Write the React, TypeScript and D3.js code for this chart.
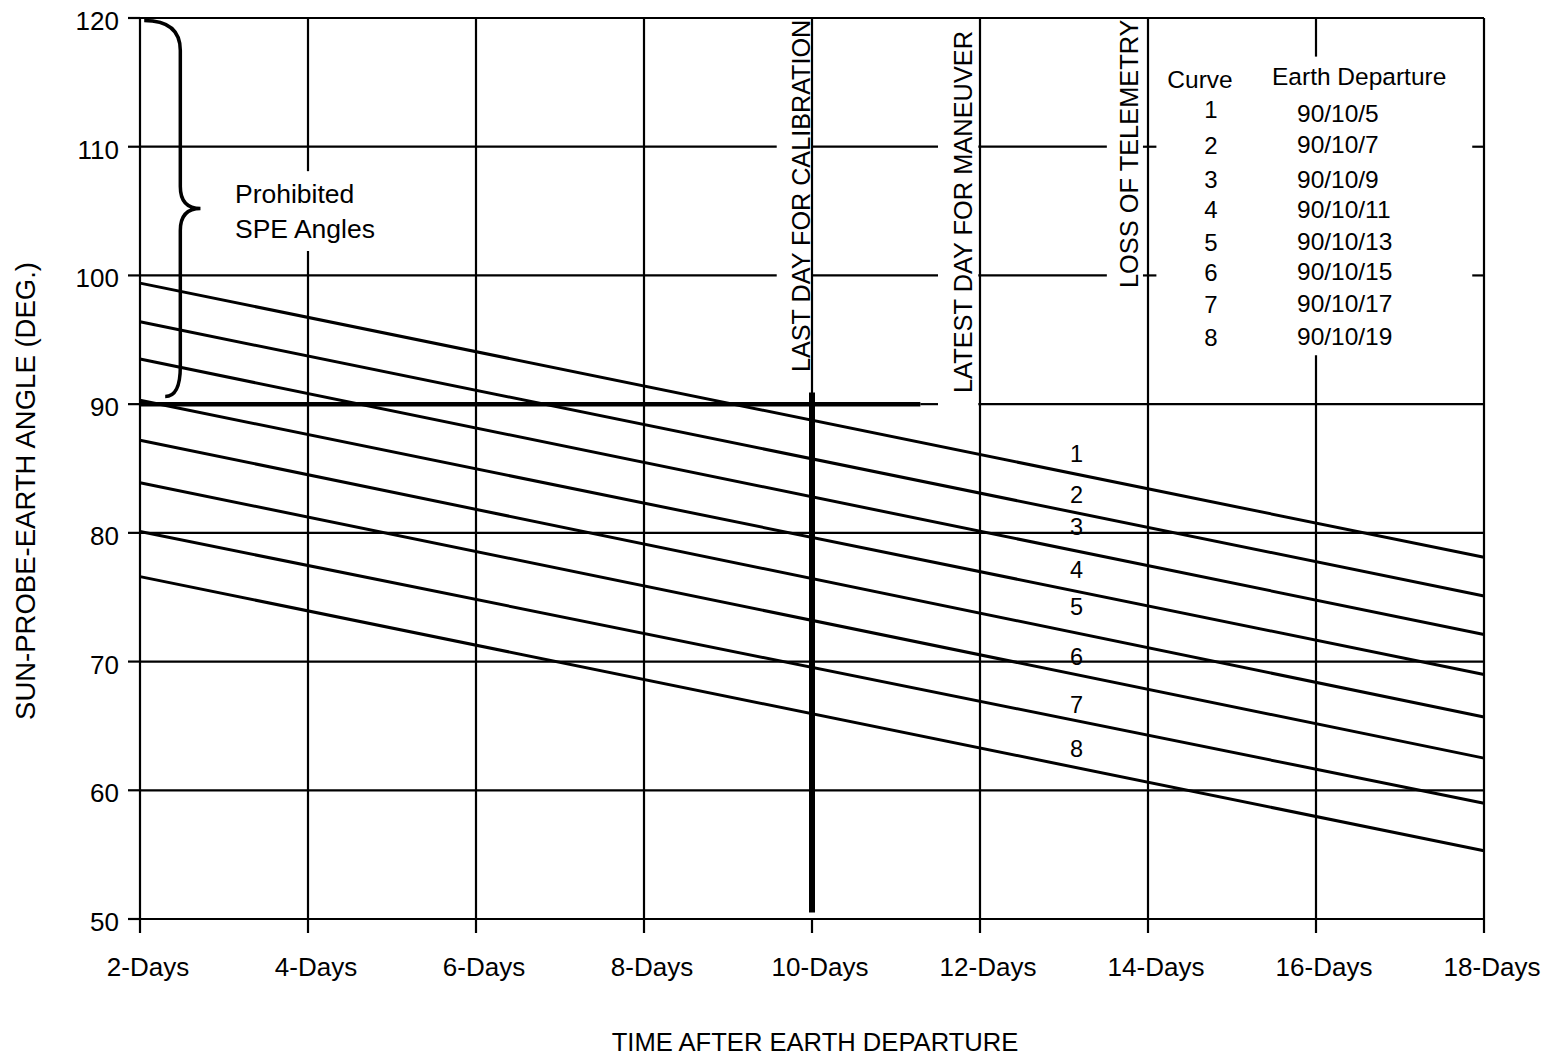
import * as d3 from "d3";

// days after earth departure, axis ticks
const dayTicks = [2, 4, 6, 8, 10, 12, 14, 16, 18];
const angleTicks = [50, 60, 70, 80, 90, 100, 110, 120];

// sun-probe-earth angle for each curve at 2 days and 18 days
const curveIds = ["1", "2", "3", "4", "5", "6", "7", "8"];
const curveDays = [2, 18];
const curveStart = [99.4, 96.4, 93.5, 90.3, 87.2, 83.9, 80.1, 76.6];
const curveEnd = [78.1, 75.1, 72.1, 69.0, 65.7, 62.5, 59.0, 55.3];
const departureDates = [
  "90/10/5",
  "90/10/7",
  "90/10/9",
  "90/10/11",
  "90/10/13",
  "90/10/15",
  "90/10/17",
  "90/10/19",
];

// where each curve number is written (day, angle)
const curveLabelDay = 13.15;
const curveLabelAngle = [85.5, 82.3, 79.8, 76.5, 73.6, 69.7, 66.0, 62.6];

// gridline pieces left visible around the annotations: [from, to]
const hGridPieces = {
  120: [[2, 18]],
  110: [[2, 9.58], [10, 11.5], [11.98, 13.51], [13.94, 14.1], [17.86, 18]],
  100: [[2, 9.58], [10, 11.5], [11.98, 13.51], [13.94, 14.1], [17.86, 18]],
  90: [[11.98, 18]],
  80: [[2, 18]],
  70: [[2, 18]],
  60: [[2, 18]],
  50: [[2, 18]],
};
const vGridPieces = {
  2: [[50, 120]],
  4: [[50, 101.9], [108.1, 120]],
  6: [[50, 120]],
  8: [[50, 120]],
  10: [[90.5, 120]],
  12: [[50, 120]],
  14: [[50, 120]],
  16: [[50, 93.8], [117.0, 120]],
  18: [[50, 120]],
};

const W = 1543;
const H = 1056;
const font = "'Liberation Sans', Arial, Helvetica, sans-serif";

export default function App() {
  const x = d3.scaleLinear().domain([2, 18]).range([140, 1484]);
  const y = d3.scaleLinear().domain([50, 120]).range([919, 18]);
  const line = d3
    .line<[number, number]>()
    .x((d) => x(d[0]))
    .y((d) => y(d[1]));

  // brace next to the prohibited zone
  const bx = x(2.48);
  const top = y(119.8);
  const bot = y(90.6);
  const mid = y(105.2);
  const tip = x(2.72);
  const brace = d3.path();
  brace.moveTo(x(2.05), top);
  brace.quadraticCurveTo(bx, top, bx, top + 30);
  brace.lineTo(bx, mid - 22);
  brace.quadraticCurveTo(bx, mid, tip, mid);
  brace.quadraticCurveTo(bx, mid, bx, mid + 22);
  brace.lineTo(bx, bot - 30);
  brace.quadraticCurveTo(bx, bot, x(2.3), bot);

  const legendNumY = [118, 154, 188, 218, 251, 281, 313, 346];
  const legendDateY = [122, 153, 188, 218, 250, 280, 312, 345];

  return (
    <svg
      width={W}
      height={H}
      style={{ position: "absolute", left: 0, top: 0, background: "#fff" }}
      fontFamily={font}
    >
      <rect width={W} height={H} fill="#fff" />

      {/* horizontal grid */}
      {angleTicks.map((a) =>
        hGridPieces[a].map((p, i) => (
          <line
            key={`h${a}-${i}`}
            x1={x(p[0])}
            x2={x(p[1])}
            y1={y(a)}
            y2={y(a)}
            stroke="#000"
            strokeWidth={2.2}
          />
        ))
      )}
      {/* 90 deg limit, heavy */}
      <line x1={x(2)} x2={x(11.29)} y1={y(90)} y2={y(90)} stroke="#000" strokeWidth={4.5} />
      <line x1={x(11.29)} x2={x(11.5)} y1={y(90)} y2={y(90)} stroke="#000" strokeWidth={2.2} />

      {/* vertical grid */}
      {dayTicks.map((d) =>
        vGridPieces[d].map((p, i) => (
          <line
            key={`v${d}-${i}`}
            x1={x(d)}
            x2={x(d)}
            y1={y(p[0])}
            y2={y(p[1])}
            stroke="#000"
            strokeWidth={2.2}
          />
        ))
      )}
      {/* calibration limit, heavy */}
      <line x1={x(10)} x2={x(10)} y1={y(50.5)} y2={y(90.9)} stroke="#000" strokeWidth={6} />

      {/* ticks */}
      {dayTicks.map((d) => (
        <line key={`xt${d}`} x1={x(d)} x2={x(d)} y1={y(50)} y2={y(50) + 14} stroke="#000" strokeWidth={2.2} />
      ))}
      {angleTicks.map((a) => (
        <line key={`yt${a}`} x1={x(2) - 12} x2={x(2)} y1={y(a)} y2={y(a)} stroke="#000" strokeWidth={2.2} />
      ))}

      {/* curves */}
      {curveIds.map((c, i) => (
        <path
          key={`c${c}`}
          d={line([
            [curveDays[0], curveStart[i]],
            [curveDays[1], curveEnd[i]],
          ]) ?? ""}
          fill="none"
          stroke="#000"
          strokeWidth={3}
        />
      ))}
      {curveIds.map((c, i) => (
        <text
          key={`cl${c}`}
          x={x(curveLabelDay)}
          y={y(curveLabelAngle[i])}
          fontSize={23.5}
          textAnchor="middle"
        >
          {c}
        </text>
      ))}

      {/* brace + prohibited note */}
      <path d={brace.toString()} fill="none" stroke="#000" strokeWidth={3.5} />
      <text x={235} y={203} fontSize={26.5}>
        Prohibited
      </text>
      <text x={235} y={238} fontSize={26.5}>
        SPE Angles
      </text>

      {/* vertical event labels */}
      <text transform={`translate(${x(10) - 2},372) rotate(-90)`} fontSize={25.2}>
        LAST DAY FOR CALIBRATION
      </text>
      <text transform={`translate(${x(12) - 8},393) rotate(-90)`} fontSize={25.4}>
        LATEST DAY FOR MANEUVER
      </text>
      <text transform={`translate(${x(14) - 10},288) rotate(-90)`} fontSize={25.4}>
        LOSS OF TELEMETRY
      </text>

      {/* legend */}
      <text x={1200} y={88} fontSize={24.5} textAnchor="middle">
        Curve
      </text>
      <text x={1272} y={85} fontSize={24.5}>
        Earth Departure
      </text>
      {curveIds.map((c, i) => (
        <text key={`lg${c}`} x={1211} y={legendNumY[i]} fontSize={24} textAnchor="middle">
          {c}
        </text>
      ))}
      {departureDates.map((dt, i) => (
        <text key={`ld${i}`} x={1297} y={legendDateY[i]} fontSize={24.5}>
          {dt}
        </text>
      ))}

      {/* tick labels */}
      {angleTicks.map((a) => (
        <text key={`yl${a}`} x={119} y={y(a) + 12} fontSize={26} textAnchor="end">
          {a}
        </text>
      ))}
      {dayTicks.map((d) => (
        <text key={`xl${d}`} x={x(d) + 8} y={976} fontSize={26} textAnchor="middle">
          {`${d}-Days`}
        </text>
      ))}

      {/* axis titles */}
      <text x={815} y={1051} fontSize={25.6} textAnchor="middle">
        TIME AFTER EARTH DEPARTURE
      </text>
      <text transform="translate(35,491) rotate(-90)" fontSize={27.5} textAnchor="middle">
        SUN-PROBE-EARTH ANGLE (DEG.)
      </text>
    </svg>
  );
}
